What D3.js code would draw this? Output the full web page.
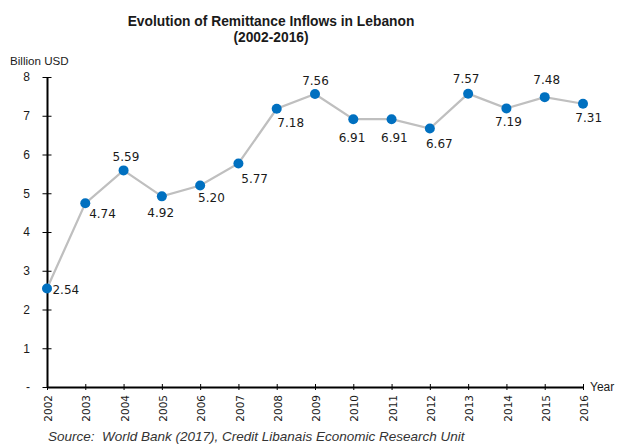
<!DOCTYPE html>
<html><head><meta charset="utf-8">
<script src="https://cdn.jsdelivr.net/npm/d3@7"></script>
<style>body{margin:0;background:#fff}svg{display:block}</style>
</head><body><svg id="c" width="617" height="444"></svg>
<script>
const years = ["2002","2003","2004","2005","2006","2007","2008","2009","2010","2011","2012","2013","2014","2015","2016"];
const remittances = [2.54,4.74,5.59,4.92,5.20,5.77,7.18,7.56,6.91,6.91,6.67,7.57,7.19,7.48,7.31];
const valueLabels = ["2.54","4.74","5.59","4.92","5.20","5.77","7.18","7.56","6.91","6.91","6.67","7.57","7.19","7.48","7.31"];
const yTicks = [0,1,2,3,4,5,6,7,8];
const yTickLabels = ["-","1","2","3","4","5","6","7","8"];
const titleLines = ["Evolution of Remittance Inflows in Lebanon","(2002-2016)"];
const yAxisTitle = "Billion USD";
const xAxisTitle = "Year";
const sourceText = "Source:  World Bank (2017), Credit Libanais Economic Research Unit";

// label layout (offsets of label centre from point, in px)
const labelDx = [18.8,17.2,2.4,-1.2,11.3,16.2,14,0.5,-1.3,2.8,9.5,-2,2,2,5.7];
const labelDy = [1.4,10,-14,16,12,15,14,-13,18,18,15,-15,13,-17,14];

const svg = d3.select("#c");
const x = d3.scalePoint().domain(years).range([47, 583]);
const y = d3.scaleLinear().domain([0, 8]).range([387, 77]);

const labelFont = "'Liberation Sans', Arial, sans-serif";
const dataFont = "'DejaVu Sans', Verdana, sans-serif";

// Title
svg.append("g").selectAll("text").data(titleLines).join("text")
  .attr("x", 271).attr("y", (d,i)=> i===0 ? 26 : 41.5)
  .attr("text-anchor","middle")
  .attr("font-family", labelFont).attr("font-weight","bold").attr("font-size","13.8px")
  .attr("fill","#1a1a1a").text(d=>d);

// Y axis
const yAxis = svg.append("g").attr("transform","translate(47,0)")
  .call(d3.axisLeft(y).tickValues(yTicks).tickFormat((d,i)=>yTickLabels[i]).tickSize(4).tickSizeOuter(0).tickPadding(13));
yAxis.select(".domain").attr("stroke","#000").attr("stroke-width",2);
yAxis.selectAll(".tick line").attr("x1",-4.5).attr("x2",4.5).attr("stroke","#000").attr("stroke-width",1);
yAxis.selectAll(".tick text").attr("font-family",labelFont).attr("font-size","12px").attr("fill","#1a1a1a");

// X axis
const xAxis = svg.append("g").attr("transform","translate(0,387)")
  .call(d3.axisBottom(x).tickSize(3).tickSizeOuter(0));
xAxis.select(".domain").attr("stroke","#000").attr("stroke-width",2);
xAxis.selectAll(".tick line").attr("y1",-3).attr("y2",3).attr("stroke","#000").attr("stroke-width",1);
xAxis.selectAll(".tick text").remove();
xAxis.selectAll(".tick").append("text")
  .attr("transform","translate(1,8) rotate(-90)")
  .attr("text-anchor","end").attr("dy","0.35em")
  .attr("font-family",dataFont).attr("font-size","10.5px").attr("fill","#1a1a1a")
  .text(d=>d);

// Axis titles
svg.append("text").attr("x",10).attr("y",65)
  .attr("font-family",labelFont).attr("font-size","11.6px").attr("fill","#1a1a1a").text(yAxisTitle);
svg.append("text").attr("x",590).attr("y",391)
  .attr("font-family",labelFont).attr("font-size","12px").attr("fill","#1a1a1a").text(xAxisTitle);

// Line
const pts = years.map((yr,i)=>({yr, v: remittances[i], i}));
svg.append("path").datum(pts)
  .attr("fill","none").attr("stroke","#bfbfbf").attr("stroke-width",2.25)
  .attr("d", d3.line().x(d=>x(d.yr)).y(d=>y(d.v)));

// Markers
svg.append("g").selectAll("circle").data(pts).join("circle")
  .attr("cx",d=>x(d.yr)).attr("cy",d=>y(d.v)).attr("r",5).attr("fill","#0070c0");

// Data labels
svg.append("g").selectAll("text").data(pts).join("text")
  .attr("x",d=>x(d.yr)+labelDx[d.i]).attr("y",d=>y(d.v)+labelDy[d.i])
  .attr("dy","0.36em").attr("text-anchor","middle")
  .attr("font-family",dataFont).attr("font-size","12px").attr("fill","#1a1a1a")
  .text(d=>valueLabels[d.i]);

// Source
svg.append("text").attr("x",48).attr("y",440.5)
  .attr("font-family",labelFont).attr("font-style","italic").attr("font-size","13.5px").attr("fill","#333")
  .style("white-space","pre")
  .text(sourceText);
</script>
</body></html>
